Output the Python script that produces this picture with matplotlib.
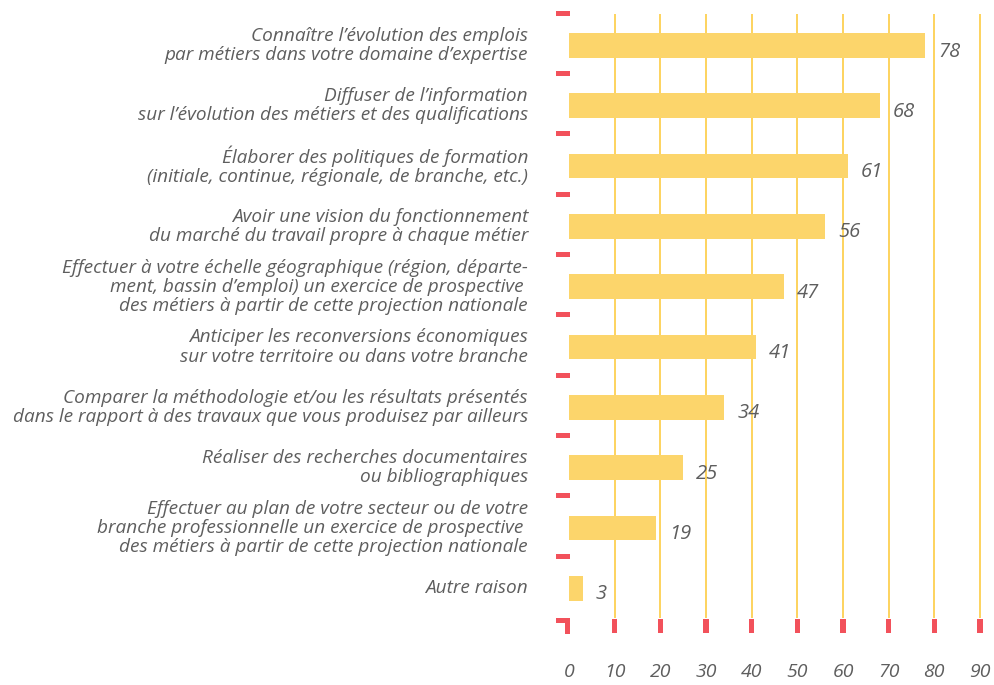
import matplotlib
matplotlib.use("Agg")
import matplotlib.pyplot as plt
from matplotlib.patches import Rectangle

plt.rcParams['font.family'] = ['Open Sans', 'DejaVu Sans']

categories = [
    "Connaître l’évolution des emplois\npar métiers dans votre domaine d’expertise",
    "Diffuser de l’information\nsur l’évolution des métiers et des qualifications",
    "Élaborer des politiques de formation\n(initiale, continue, régionale, de branche, etc.)",
    "Avoir une vision du fonctionnement\ndu marché du travail propre à chaque métier",
    "Effectuer à votre échelle géographique (région, départe-\nment, bassin d’emploi) un exercice de prospective \ndes métiers à partir de cette projection nationale",
    "Anticiper les reconversions économiques\nsur votre territoire ou dans votre branche",
    "Comparer la méthodologie et/ou les résultats présentés\ndans le rapport à des travaux que vous produisez par ailleurs",
    "Réaliser des recherches documentaires\nou bibliographiques",
    "Effectuer au plan de votre secteur ou de votre\nbranche professionnelle un exercice de prospective \ndes métiers à partir de cette projection nationale",
    "Autre raison",
]
values = [78, 68, 61, 56, 47, 41, 34, 25, 19, 3]
xticks = [0, 10, 20, 30, 40, 50, 60, 70, 80, 90]

BAR = "#FCD56B"
GRID = "#FDD35E"
RED = "#F2515B"
GRAY = "#5E5E5E"

W, H = 995, 685
x0px, pxu = 569.0, 4.567     # pixel of x=0, pixels per unit
y0px, pxc = 45.5, 60.3       # pixel of first category center, pixels per category

fig = plt.figure(figsize=(W / 100, H / 100), dpi=100)
ax = fig.add_axes([0, 0, 1, 1])
ax.set_xlim(-x0px / pxu, (W - x0px) / pxu)
ax.set_ylim((H - y0px) / pxc, -y0px / pxc)
ax.axis('off')

n = len(values)
ypos = list(range(n))
top = -0.5
bottom = n - 0.5

# vertical grid lines
for t in xticks[1:]:
    ax.plot([t, t], [top - 0.03, bottom], color=GRID, lw=1.4, zorder=1, solid_capstyle='butt')

# bars
ax.barh(ypos, values, height=0.41, color=BAR, zorder=2)

# value labels
for y, v in zip(ypos, values):
    ax.text(v + 13 / pxu, y + 0.1, str(v), ha='left', va='center',
            fontsize=14.5, style='italic', color=GRAY, zorder=3)

# category labels
for y, c in zip(ypos, categories):
    ax.text(-41 / pxu, y, c, ha='right', va='center', fontsize=13.7, style='italic',
            color=GRAY, linespacing=1.08, multialignment='right')

# left red dashes at category boundaries
dash_w = 14 / pxu
dash_h = 5 / pxc
for k in range(n):
    b = k - 0.5 - 2 / pxc
    ax.add_patch(Rectangle((-13 / pxu, b - dash_h / 2), dash_w, dash_h,
                           color=RED, lw=0, zorder=3))

# bottom corner at 0
yb = bottom
ax.add_patch(Rectangle((-13 / pxu, yb), 14 / pxu, 4.5 / pxc, color=RED, lw=0, zorder=3))
ax.add_patch(Rectangle((-4.5 / pxu, yb), 5.5 / pxu, 16 / pxc, color=RED, lw=0, zorder=3))

# bottom ticks
for t in xticks[1:]:
    ax.add_patch(Rectangle((t - 2.6 / pxu, yb + 1 / pxc), 5.2 / pxu, 14 / pxc,
                           color=RED, lw=0, zorder=3))

# x tick labels
for t in xticks:
    ax.text(t, yb + 54 / pxc, str(t), ha='center', va='center', fontsize=14,
            style='italic', color=GRAY)

fig.savefig("out.png", dpi=100)
